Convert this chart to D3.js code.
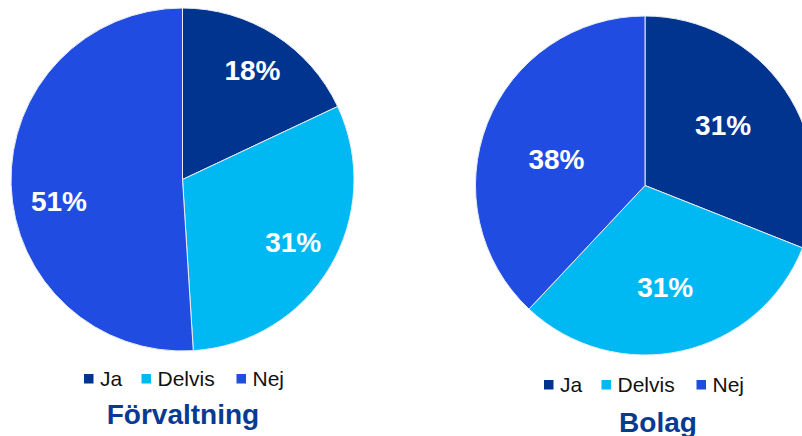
<!DOCTYPE html>
<html>
<head>
<meta charset="utf-8">
<script src="https://cdn.jsdelivr.net/npm/d3@7"></script>
<style>
  html, body { margin: 0; padding: 0; background: #ffffff; }
  svg { display: block; font-family: "Liberation Sans", Arial, sans-serif; }
</style>
</head>
<body>
<svg id="chart" width="802" height="436"></svg>
<script>
// Answer categories shared by both pies
const categories = ["Ja", "Delvis", "Nej"];
const colors = ["#00348F", "#00B9F2", "#214CE1"];

// Share of answers (%) per organisation type
const forvaltningValues = [18, 31, 51];
const bolagValues = [31, 31, 38];

const chartTitles = ["Förvaltning", "Bolag"];

const svg = d3.select("#chart");
const color = d3.scaleOrdinal().domain(categories).range(colors);

// Layout of each pie panel; labelShift fine-tunes where each value label sits
const panels = [
  { title: chartTitles[0], values: forvaltningValues, cx: 182.5, cy: 179.5, r: 171.5,
    labelR: 0.75, labelShift: [[1, -1], [0, -3], [5, 17]],
    legendX: 84, legendY: 374, titleX: 183, titleY: 424 },
  { title: chartTitles[1], values: bolagValues, cx: 645, cy: 185.5, r: 169.5,
    labelR: 0.6, labelShift: [[-6, -3], [-2, 2], [6, 11]],
    legendX: 544, legendY: 380, titleX: 658, titleY: 432 }
];

const pie = d3.pie().sort(null).value(d => d.value);

panels.forEach(p => {
  const data = categories.map((c, i) => ({ category: c, value: p.values[i] }));
  const arcs = pie(data);
  const arc = d3.arc().innerRadius(0).outerRadius(p.r);
  const labelArc = d3.arc().innerRadius(p.r * p.labelR).outerRadius(p.r * p.labelR);

  const g = svg.append("g").attr("transform", `translate(${p.cx},${p.cy})`);

  g.selectAll("path.slice")
    .data(arcs)
    .join("path")
    .attr("class", "slice")
    .attr("d", arc)
    .attr("fill", d => color(d.data.category))
    .attr("stroke", "#e8ecf5")
    .attr("stroke-width", 1);

  g.selectAll("text.value")
    .data(arcs)
    .join("text")
    .attr("class", "value")
    .attr("transform", (d, i) => {
      const [x, y] = labelArc.centroid(d);
      return `translate(${x + p.labelShift[i][0]},${y + p.labelShift[i][1]})`;
    })
    .attr("text-anchor", "middle")
    .attr("dy", "0.36em")
    .attr("fill", "#ffffff")
    .attr("font-weight", "bold")
    .attr("font-size", 28)
    .text(d => d.data.value + "%");

  // Legend row
  const legend = svg.append("g").attr("transform", `translate(${p.legendX},${p.legendY})`);
  const offsets = [0, 57.5, 152.5];
  categories.forEach((c, i) => {
    const item = legend.append("g").attr("transform", `translate(${offsets[i]},0)`);
    item.append("rect")
      .attr("width", 9.5).attr("height", 9.5)
      .attr("fill", color(c));
    item.append("text")
      .attr("x", 16).attr("y", 12)
      .attr("font-size", 21)
      .attr("fill", "#111111")
      .text(c);
  });

  svg.append("text")
    .attr("x", p.titleX).attr("y", p.titleY)
    .attr("text-anchor", "middle")
    .attr("font-weight", "bold")
    .attr("font-size", 28)
    .attr("fill", "#073A93")
    .text(p.title);
});
</script>
</body>
</html>
